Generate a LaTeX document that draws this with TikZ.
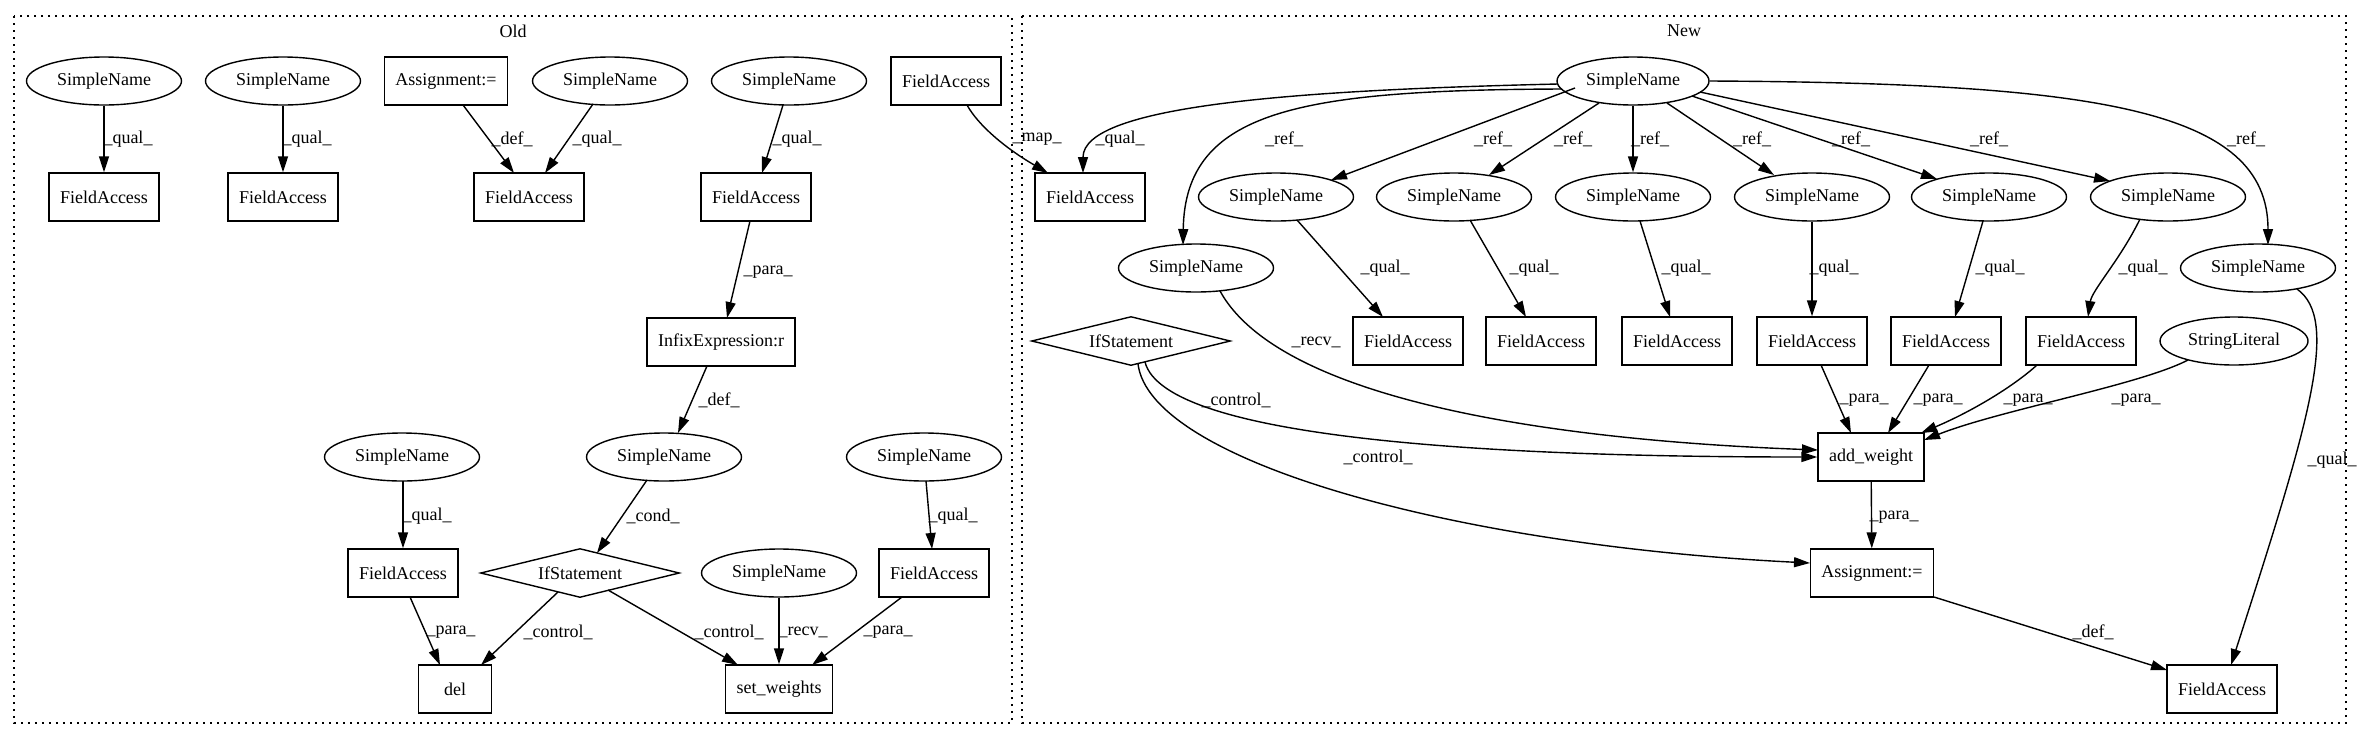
\documentclass[tikz,border=0pt]{standalone}
\usepackage{fontspec}
\setmainfont{Liberation Serif}
\usetikzlibrary{shapes.geometric,arrows.meta}
\begin{document}
\begin{tikzpicture}[x=1pt,y=-1pt,font=\fontsize{18}{21}\selectfont,
  sn/.style={ellipse, draw, line width=1.4pt, minimum width=155pt, minimum height=48pt, inner sep=0pt},
  fa/.style={rectangle, draw, line width=1.4pt, minimum width=73pt, minimum height=48pt, inner xsep=11pt, inner ysep=0pt},
  ifs/.style={diamond, draw, line width=1.4pt, aspect=4, minimum width=199pt, minimum height=49pt, inner sep=0pt},
  arr/.style={-{Triangle[length=16pt,width=10pt]}, line width=1.4pt},
  lbl/.style={inner sep=0pt},
  cluster/.style={draw, line width=1.4pt, dash pattern=on 2pt off 5pt}]
\useasboundingbox (0,0) rectangle (2363,740);
% clusters
\draw[cluster] (14,16) rectangle (1012,723);
\draw[cluster] (1022,16) rectangle (2346,723);
\node[lbl] (oldlbl) at (513,31) {Old};
\node[lbl] (newlbl) at (1684,31) {New};

% ---------- Old nodes
\node[sn] (osn1) at (104,81) {SimpleName};
\node[fa] (ofa1) at (104,197) {FieldAccess};
\node[sn] (osn2) at (283,81) {SimpleName};
\node[fa] (ofa2) at (283,197) {FieldAccess};
\node[fa] (oasg) at (446,81) {Assignment:=};
\node[sn] (osn3) at (610,81) {SimpleName};
\node[fa] (ofa3) at (529,197) {FieldAccess};
\node[sn] (osn4) at (789,81) {SimpleName};
\node[fa] (ofa4) at (756,197) {FieldAccess};
\node[fa] (ofamap) at (946,81) {FieldAccess};
\node[fa] (oinfix) at (721,342) {InfixExpression:r};
\node[sn] (osn5) at (402,457) {SimpleName};
\node[sn] (osn6) at (664,457) {SimpleName};
\node[sn] (osn7) at (924,457) {SimpleName};
\node[fa] (ofa5) at (403,573) {FieldAccess};
\node[ifs] (oif) at (580,573) {IfStatement};
\node[sn] (osn8) at (779,573) {SimpleName};
\node[fa] (ofa6) at (934,573) {FieldAccess};
\node[fa] (odel) at (455,689) {del};
\node[fa] (osw) at (779,689) {set\_weights};

% ---------- New nodes
\node[sn, minimum width=152pt] (ntop) at (1633,81) {SimpleName};
\node[fa] (nfamap) at (1090,197) {FieldAccess};
\node[sn] (nr1) at (1276,197) {SimpleName};
\node[sn] (nr2) at (1454,197) {SimpleName};
\node[sn] (nr3) at (1633,197) {SimpleName};
\node[sn] (nr4) at (1812,197) {SimpleName};
\node[sn] (nr5) at (1989,197) {SimpleName};
\node[sn] (nr6) at (2168,197) {SimpleName};
\node[sn] (nsnl) at (1196,268) {SimpleName};
\node[sn] (nsnr) at (2258,268) {SimpleName};
\node[fa] (nf1) at (1408,341) {FieldAccess};
\node[fa] (nf2) at (1541,341) {FieldAccess};
\node[fa] (nf3) at (1677,341) {FieldAccess};
\node[fa] (nf4) at (1812,341) {FieldAccess};
\node[fa] (nf5) at (1946,341) {FieldAccess};
\node[fa] (nf6) at (2081,341) {FieldAccess};
\node[ifs] (nif) at (1131,341) {IfStatement};
\node[sn, minimum width=148pt] (nstr) at (2234,341) {StringLiteral};
\node[fa] (naddw) at (1871,457) {add\_weight};
\node[fa] (nasg) at (1872,573) {Assignment:=};
\node[fa] (nfabr) at (2222,689) {FieldAccess};

% ---------- Old edges
\draw[arr] (osn1) -- (ofa1) node[lbl,at={(128,139)}] (e1) {\_qual\_};
\draw[arr] (osn2) -- (ofa2) node[lbl,at={(307,139)}] (e2) {\_qual\_};
\draw[arr] ([shift={(17,24)}]oasg.center) -- ([shift={(-15,-24)}]ofa3.center) node[lbl,at={(512,139)}] (e3) {\_def\_};
\draw[arr] ([shift={(-17,23)}]osn3.center) -- ([shift={(16,-24)}]ofa3.center) node[lbl,at={(597,139)}] (e4) {\_qual\_};
\draw[arr] ([shift={(-6,24)}]osn4.center) -- ([shift={(6,-24)}]ofa4.center) node[lbl,at={(797,139)}] (e5) {\_qual\_};
\draw[arr] ([shift={(-6,24)}]ofa4.center) -- ([shift={(6,-24)}]oinfix.center) node[lbl,at={(768,272)}] (e6) {\_para\_};
\draw[arr] ([shift={(21,24)}]ofamap.center) .. controls (978,125) and (1005,148) .. ([shift={(-42,-24)}]nfamap.center) node[lbl,at={(1037,139)}] (e7) {\_map\_};
\draw[arr] ([shift={(-14,24)}]oinfix.center) -- ([shift={(14,-24)}]osn6.center) node[lbl,at={(719,400)}] (e8) {\_def\_};
\draw[arr] ([shift={(-17,23)}]osn6.center) -- ([shift={(17,-20)}]oif.center) node[lbl,at={(653,516)}] (e9) {\_cond\_};
\draw[arr] ([shift={(1,24)}]osn5.center) -- (ofa5) node[lbl,at={(427,516)}] (e10) {\_qual\_};
\draw[arr] ([shift={(2,24)}]osn7.center) -- ([shift={(-2,-24)}]ofa6.center) node[lbl,at={(953,516)}] (e11) {\_qual\_};
\draw[arr] ([shift={(7,24)}]ofa5.center) -- ([shift={(-15,-24)}]odel.center) node[lbl,at={(451,632)}] (e12) {\_para\_};
\draw[arr] ([shift={(-22,19)}]oif.center) -- ([shift={(26,-24)}]odel.center) node[lbl,at={(558,632)}] (e13) {\_control\_};
\draw[arr] ([shift={(28,17)}]oif.center) -- ([shift={(-41,-24)}]osw.center) node[lbl,at={(729,632)}] (e14) {\_control\_};
\draw[arr] (osn8) -- (osw) node[lbl,at={(803,632)}] (e15) {\_recv\_};
\draw[arr] ([shift={(-32,24)}]ofa6.center) -- ([shift={(33,-24)}]osw.center) node[lbl,at={(888,632)}] (e16) {\_para\_};

% ---------- New edges
\draw[arr] ([shift={(-75,3)}]ntop.center) .. controls (1300,90) and (1083,105) .. ([shift={(-7,-24)}]nfamap.center) node[lbl,at={(1120,139)}] (n1) {\_qual\_};
\draw[arr] ([shift={(-71,8)}]ntop.center) .. controls (1300,90) and (1185,110) .. ([shift={(-13,-23)}]nsnl.center) node[lbl,at={(1284,139)}] (n2) {\_ref\_};
\draw[arr] ([shift={(-58,7)}]ntop.center) -- ([shift={(55,-17)}]nr1.center) node[lbl,at={(1493,139)}] (n3) {\_ref\_};
\draw[arr] ([shift={(-34,22)}]ntop.center) -- ([shift={(35,-22)}]nr2.center) node[lbl,at={(1573,139)}] (n4) {\_ref\_};
\draw[arr] (ntop) -- (nr3) node[lbl,at={(1650,139)}] (n5) {\_ref\_};
\draw[arr] ([shift={(34,22)}]ntop.center) -- ([shift={(-38,-22)}]nr4.center) node[lbl,at={(1752,139)}] (n6) {\_ref\_};
\draw[arr] ([shift={(59,15)}]ntop.center) -- ([shift={(-52,-18)}]nr5.center) node[lbl,at={(1851,139)}] (n7) {\_ref\_};
\draw[arr] ([shift={(67,11)}]ntop.center) -- ([shift={(-58,-16)}]nr6.center) node[lbl,at={(1989,139)}] (n8) {\_ref\_};
\draw[arr] (ntop.east) .. controls (2100,83) and (2268,110) .. ([shift={(10,-23)}]nsnr.center) node[lbl,at={(2246,139)}] (n9) {\_ref\_};

\draw[arr] ([shift={(21,23)}]nr1.center) -- ([shift={(-25,-24)}]nf1.center) node[lbl,at={(1385,268)}] (n10) {\_qual\_};
\draw[arr] ([shift={(16,23)}]nr2.center) -- ([shift={(-15,-24)}]nf2.center) node[lbl,at={(1534,268)}] (n11) {\_qual\_};
\draw[arr] ([shift={(7,24)}]nr3.center) -- ([shift={(-7,-24)}]nf3.center) node[lbl,at={(1686,268)}] (n12) {\_qual\_};
\draw[arr] (nr4) -- (nf4) node[lbl,at={(1834,268)}] (n13) {\_qual\_};
\draw[arr] ([shift={(-6,24)}]nr5.center) -- ([shift={(9,-24)}]nf5.center) node[lbl,at={(2000,268)}] (n14) {\_qual\_};
\draw[arr] ([shift={(-28,22)}]nr6.center) .. controls (2120,260) and (2092,290) .. ([shift={(7,-24)}]nf6.center) node[lbl,at={(2143,268)}] (n15) {\_qual\_};

\draw[arr] ([shift={(24,23)}]nsnl.center) .. controls (1280,400) and (1550,440) .. ([shift={(-53,-7)}]naddw.center) node[lbl,at={(1316,342)}] (n16) {\_recv\_};
\draw[arr] ([shift={(14,21)}]nif.center) .. controls (1165,440) and (1500,457) .. (naddw.west) node[lbl,at={(1236,400)}] (n17) {\_control\_};
\draw[arr] ([shift={(7,23)}]nif.center) .. controls (1150,460) and (1450,545) .. ([shift={(-62,-10)}]nasg.center) node[lbl,at={(1378,457)}] (n18) {\_control\_};

\draw[arr] ([shift={(9,24)}]nf4.center) -- ([shift={(-20,-24)}]naddw.center) node[lbl,at={(1864,400)}] (n19) {\_para\_};
\draw[arr] ([shift={(-17,24)}]nf5.center) -- ([shift={(17,-24)}]naddw.center) node[lbl,at={(1938,400)}] (n20) {\_para\_};
\draw[arr] ([shift={(-44,24)}]nf6.center) .. controls (2015,385) and (1975,410) .. ([shift={(50,-24)}]naddw.center) node[lbl,at={(2028,400)}] (n21) {\_para\_};
\draw[arr] ([shift={(-46,19)}]nstr.center) .. controls (2140,385) and (2000,410) .. ([shift={(53,-17)}]naddw.center) node[lbl,at={(2136,400)}] (n22) {\_para\_};
\draw[arr] (naddw) -- (nasg) node[lbl,at={(1894,517)}] (n23) {\_para\_};
\draw[arr] ([shift={(62,24)}]nasg.center) -- ([shift={(-55,-19)}]nfabr.center) node[lbl,at={(2093,632)}] (n24) {\_def\_};
\draw[arr] ([shift={(39,21)}]nsnr.center) .. controls (2340,320) and (2310,420) .. ([shift={(9,-24)}]nfabr.center) node[lbl,at={(2332,460)}] (n25) {\_qual\_};
\end{tikzpicture}
\end{document}
